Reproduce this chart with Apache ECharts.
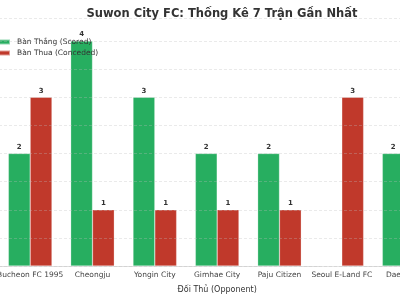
<!DOCTYPE html>
<html>
<head>
<meta charset="utf-8">
<script src="https://cdn.jsdelivr.net/npm/echarts@6/dist/echarts.min.js"></script>
<style>
  html, body { margin: 0; padding: 0; background: #fff; }
  #chart { width: 400px; height: 300px; }
</style>
</head>
<body>
<div id="chart"></div>
<script>
// du lieu 7 tran gan nhat
var opponents = ['Bucheon FC 1995', 'Cheongju', 'Yongin City', 'Gimhae City', 'Paju Citizen', 'Seoul E-Land FC', 'Daegu FC'];
var scored = [2, 4, 3, 2, 2, 0, 2];
var conceded = [3, 1, 1, 1, 1, 3, 1];

var font = 'DejaVu Sans';

function hideZero(p) {
  return p.value > 0 ? p.value : '';
}

var myChart = echarts.init(document.getElementById('chart'));
var option = {
  animation: false,
  textStyle: { fontFamily: font },
  title: {
    text: 'Suwon City FC: Thống Kê 7 Trận Gần Nhất',
    left: 217,
    textAlign: 'center',
    top: 3,
    textStyle: { fontFamily: font, fontSize: 11.5, fontWeight: 'bold', color: '#333' }
  },
  legend: {
    orient: 'vertical',
    left: -3,
    top: 37.5,
    padding: 0,
    itemGap: 2,
    itemWidth: 12,
    itemHeight: 5,
    icon: 'rect',
    textStyle: { fontFamily: font, fontSize: 7.5, color: '#333', lineHeight: 9, padding: [0, 0, 0, 2] },
    data: ['Bàn Thắng (Scored)', 'Bàn Thua (Conceded)']
  },
  // phan bieu do bi cat hai ben nhu anh goc
  grid: { left: -1, width: 436.3, top: 18.5, bottom: 34, outerBoundsMode: 'none', containLabel: false },
  xAxis: {
    type: 'category',
    data: opponents,
    name: 'Đối Thủ (Opponent)',
    nameLocation: 'middle',
    nameGap: 20,
    nameTextStyle: { fontFamily: font, fontSize: 8, color: '#333' },
    axisLine: { lineStyle: { color: '#dddddd', width: 1 } },
    axisTick: { alignWithLabel: true, length: 3, lineStyle: { color: '#555' } },
    axisLabel: { fontFamily: font, fontSize: 7.5, color: '#444', margin: 5, interval: 0, hideOverlap: false }
  },
  yAxis: {
    type: 'value',
    min: 0,
    max: 4.4,
    interval: 0.5,
    z: 5,
    axisLabel: { show: false },
    axisLine: { show: false },
    axisTick: { show: false },
    splitLine: { lineStyle: { color: 'rgba(190,190,190,0.4)', type: [3, 2], width: 0.8 } }
  },
  series: [
    {
      name: 'Bàn Thắng (Scored)',
      type: 'bar',
      data: scored,
      barWidth: 21.8,
      barGap: '0%',
      itemStyle: { color: '#27ae60', borderColor: 'rgba(255,255,255,0.5)', borderWidth: 0.5 },
      label: { show: true, position: 'top', distance: 3, formatter: hideZero,
        fontFamily: font, fontSize: 7, fontWeight: 'bold', color: '#333' }
    },
    {
      name: 'Bàn Thua (Conceded)',
      type: 'bar',
      data: conceded,
      barWidth: 21.8,
      itemStyle: { color: '#c0392b', borderColor: 'rgba(255,255,255,0.5)', borderWidth: 0.5 },
      label: { show: true, position: 'top', distance: 3, formatter: hideZero,
        fontFamily: font, fontSize: 7, fontWeight: 'bold', color: '#333' }
    }
  ]
};
myChart.setOption(option);
</script>
</body>
</html>
